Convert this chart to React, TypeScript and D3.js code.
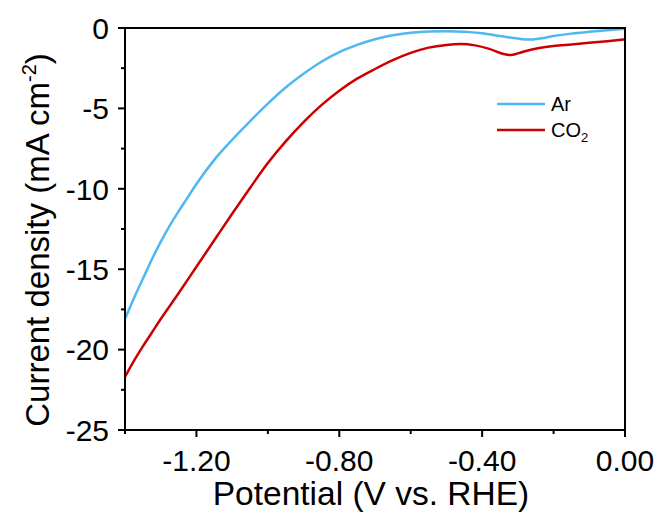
import React from "react";
import * as d3 from "d3";

// Linear sweep voltammetry: potential (V vs. RHE) and current density (mA cm^-2)
const arPotential = [
  -1.4, -1.375, -1.35, -1.325, -1.3, -1.275, -1.25, -1.225, -1.2, -1.15,
  -1.1, -1.05, -1.0, -0.95, -0.9, -0.85, -0.8, -0.75, -0.7, -0.65,
  -0.6, -0.55, -0.5, -0.45, -0.4, -0.35, -0.3, -0.27, -0.24, -0.2,
  -0.15, -0.1, -0.05, 0.0,
];
const arCurrent = [
  -18.1, -16.8, -15.6, -14.4, -13.3, -12.3, -11.4, -10.55, -9.7, -8.2,
  -6.95, -5.8, -4.7, -3.7, -2.85, -2.1, -1.5, -1.05, -0.7, -0.45,
  -0.3, -0.22, -0.2, -0.23, -0.33, -0.5, -0.66, -0.72, -0.66, -0.5,
  -0.35, -0.24, -0.14, -0.05,
];

const co2Potential = [
  -1.4, -1.375, -1.35, -1.325, -1.3, -1.25, -1.2, -1.15, -1.1, -1.05,
  -1.0, -0.95, -0.9, -0.85, -0.8, -0.75, -0.7, -0.65, -0.6, -0.55,
  -0.5, -0.46, -0.42, -0.38, -0.34, -0.32, -0.3, -0.28, -0.24, -0.2,
  -0.15, -0.1, -0.05, 0.0,
];
const co2Current = [
  -21.7, -20.7, -19.8, -18.95, -18.1, -16.5, -14.85, -13.2, -11.55, -9.95,
  -8.4, -7.05, -5.85, -4.8, -3.9, -3.15, -2.55, -2.0, -1.55, -1.22,
  -1.05, -1.0, -1.08, -1.3, -1.62, -1.68, -1.58, -1.45, -1.25, -1.12,
  -1.02, -0.92, -0.82, -0.7,
];

const xTicks = [-1.2, -0.8, -0.4, 0.0];
const xMinorTicks = [-1.4, -1.0, -0.6, -0.2];
const yTicks = [0, -5, -10, -15, -20, -25];
const yMinorTicks = [-2.5, -7.5, -12.5, -17.5, -22.5];

const seriesNames = ["Ar", "CO2"];
const seriesColors = ["#4DB8F2", "#CC0000"];

const W = 665;
const H = 515;
const left = 125;
const right = 625;
const top = 28;
const bottom = 430;
const FONT = "Arial, 'Liberation Sans', sans-serif";

export default function App() {
  const x = d3.scaleLinear().domain([-1.4, 0]).range([left, right]);
  const y = d3.scaleLinear().domain([-25, 0]).range([bottom, top]);

  const line = d3
    .line<[number, number]>()
    .x((d) => x(d[0]))
    .y((d) => y(d[1]))
    .curve(d3.curveMonotoneX);

  const arData = arPotential.map((v, i) => [v, arCurrent[i]] as [number, number]);
  const co2Data = co2Potential.map((v, i) => [v, co2Current[i]] as [number, number]);

  return (
    <svg
      width={W}
      height={H}
      style={{ position: "absolute", left: 0, top: 0, background: "#fff" }}
      fontFamily={FONT}
    >
      {/* curves */}
      <path d={line(arData) ?? ""} fill="none" stroke={seriesColors[0]} strokeWidth={2.5} strokeLinejoin="round" />
      <path d={line(co2Data) ?? ""} fill="none" stroke={seriesColors[1]} strokeWidth={2.5} strokeLinejoin="round" />

      {/* frame */}
      <path
        d={`M${left},${top}H${right}V${bottom}H${left}Z`}
        fill="none"
        stroke="#000"
        strokeWidth={2}
      />

      {/* x axis ticks */}
      {xTicks.map((t) => (
        <g key={`xt${t}`}>
          <line x1={x(t)} x2={x(t)} y1={bottom} y2={bottom + 7} stroke="#000" strokeWidth={2} />
          <text x={x(t)} y={bottom + 41} textAnchor="middle" fontSize={30}>
            {t === 0 ? "0.00" : t.toFixed(2)}
          </text>
        </g>
      ))}
      {xMinorTicks.map((t) => (
        <line key={`xm${t}`} x1={x(t)} x2={x(t)} y1={bottom} y2={bottom + 4} stroke="#000" strokeWidth={2} />
      ))}

      {/* y axis ticks */}
      {yTicks.map((t) => (
        <g key={`yt${t}`}>
          <line x1={left - 7} x2={left} y1={y(t)} y2={y(t)} stroke="#000" strokeWidth={2} />
          <text x={left - 16} y={y(t)} dy="0.36em" textAnchor="end" fontSize={30}>
            {t}
          </text>
        </g>
      ))}
      {yMinorTicks.map((t) => (
        <line key={`ym${t}`} x1={left - 4} x2={left} y1={y(t)} y2={y(t)} stroke="#000" strokeWidth={2} />
      ))}

      {/* axis titles */}
      <text x={371} y={505} textAnchor="middle" fontSize={33.5}>
        Potential (V vs. RHE)
      </text>
      <text
        transform={`translate(49, 240) rotate(-90)`}
        textAnchor="middle"
        fontSize={33}
      >
        Current density (mA cm
        <tspan fontSize={20} dy={-13}>-2</tspan>
        <tspan dy={13}>)</tspan>
      </text>

      {/* legend */}
      {seriesNames.map((name, i) => (
        <g key={name} transform={`translate(497, ${104 + i * 26})`}>
          <line x1={0} x2={48} y1={0} y2={0} stroke={seriesColors[i]} strokeWidth={2.5} />
          <text x={54} y={0} dy="0.36em" fontSize={20}>
            {name === "CO2" ? (
              <>
                CO<tspan fontSize={13} dy={5}>2</tspan>
              </>
            ) : (
              name
            )}
          </text>
        </g>
      ))}
    </svg>
  );
}
